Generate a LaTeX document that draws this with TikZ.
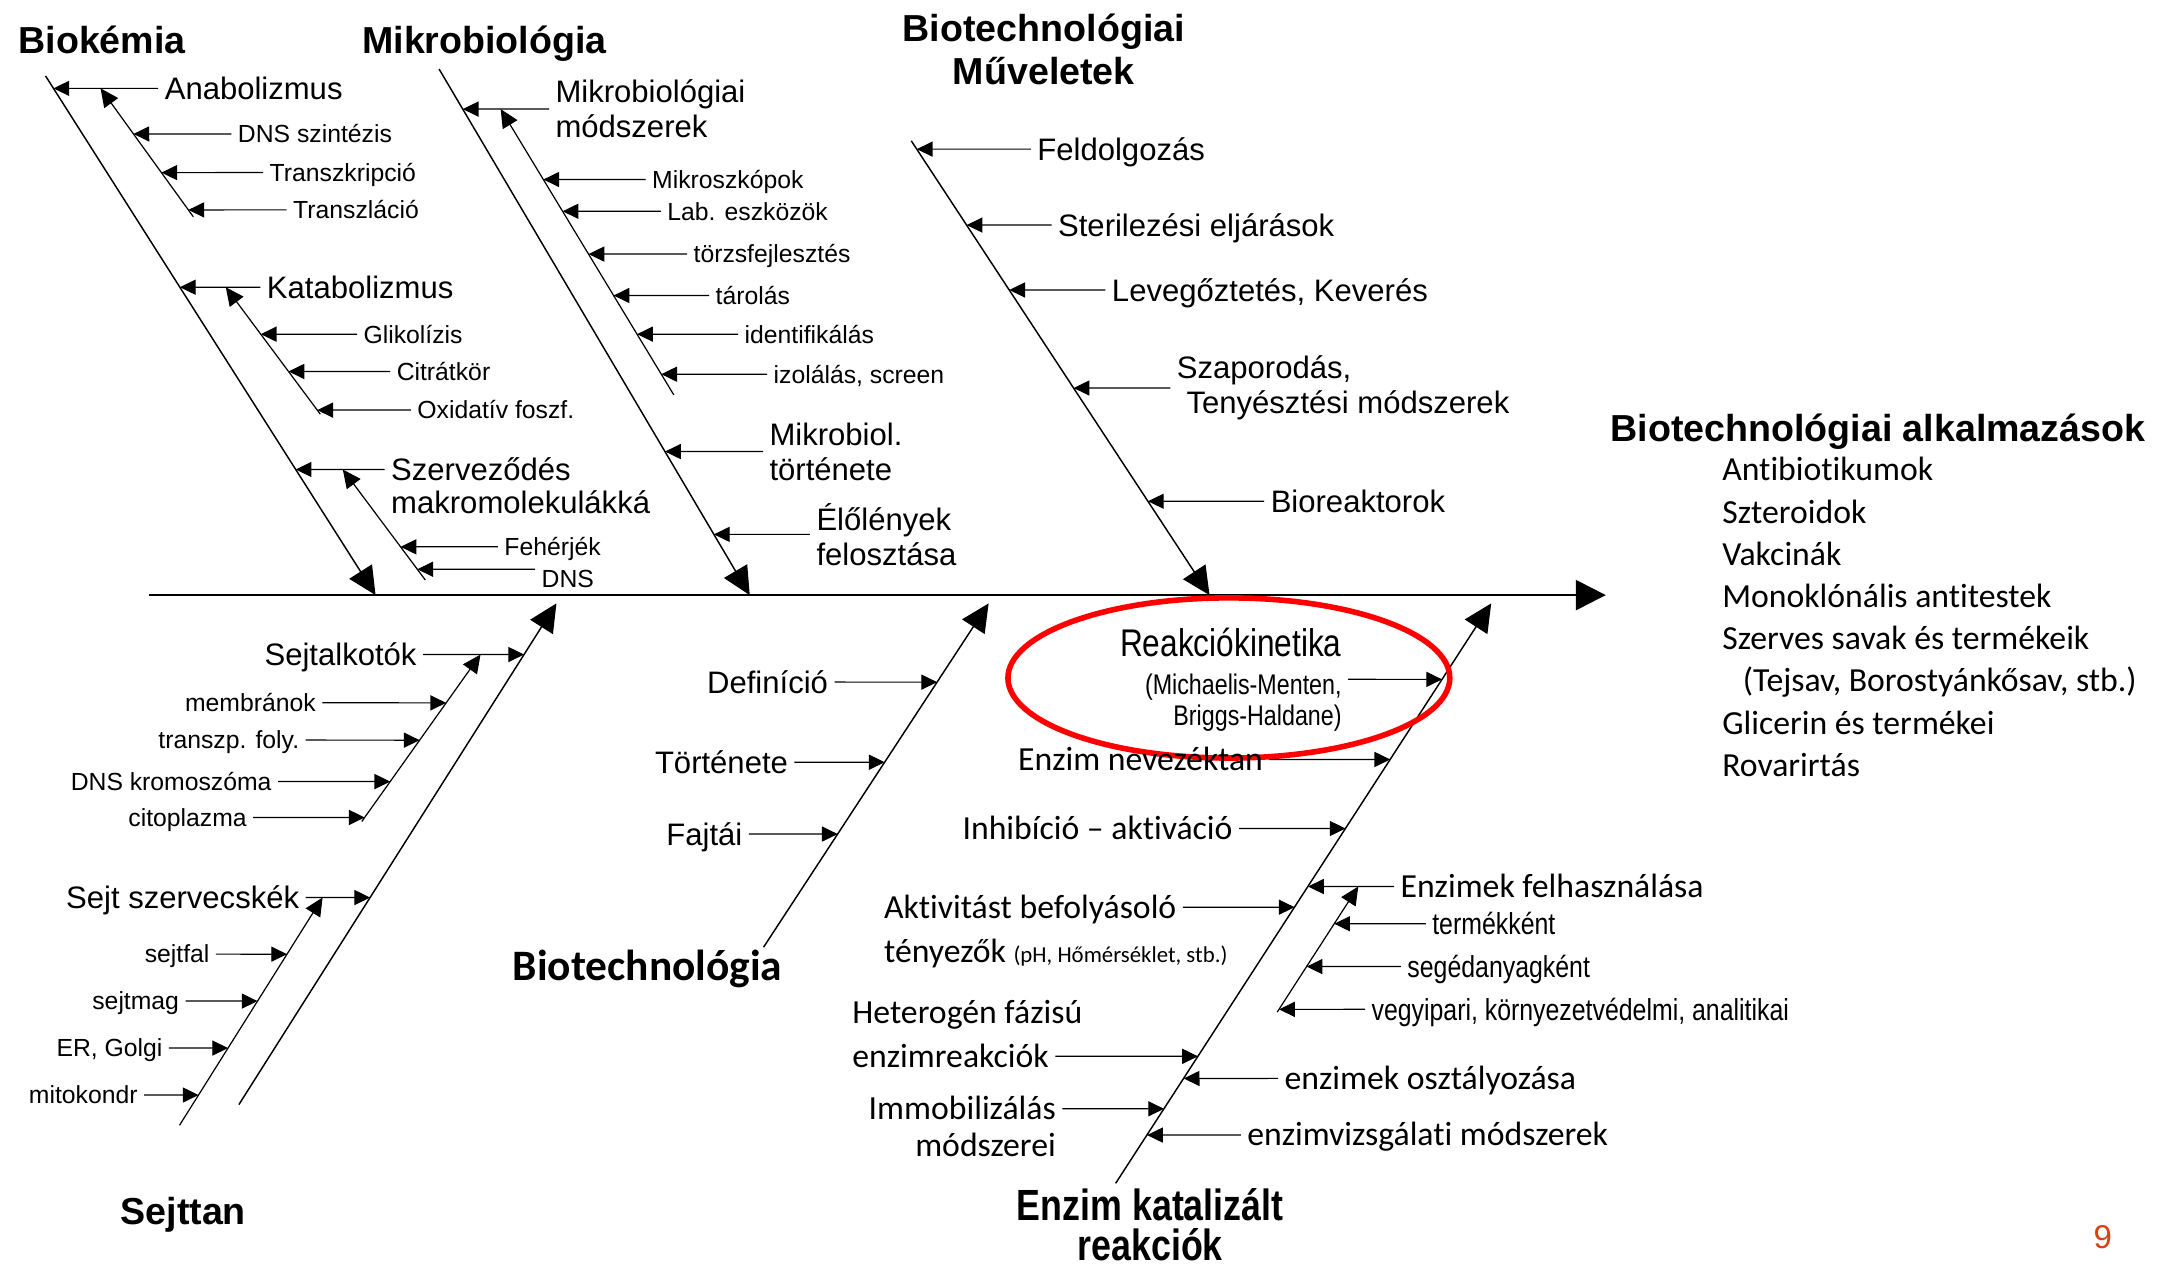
\documentclass[tikz,border=0pt]{standalone}
\usepackage{fontspec}
\setmainfont{Liberation Sans}
\newfontfamily\calfont[Ligatures=NoCommon]{Carlito}
\newfontfamily\narrowfont[FakeStretch=0.82]{Liberation Sans}
\usetikzlibrary{arrows.meta,positioning}
\definecolor{pagered}{RGB}{214,66,16}

\tikzset{
  spine/.style={draw, line width=1pt, -{Triangle[length=12.3pt,width=12.3pt]}},
  bone/.style={draw, line width=0.6pt, -{Triangle[length=11.5pt,width=11pt]}},
  sub/.style={draw, line width=0.5pt, -{Triangle[length=7.5pt,width=7pt]}},
  arr/.style={draw, line width=0.5pt, -{Triangle[length=6.5pt,width=6.2pt]}, shorten <=2.5pt},
  ttl/.style={font=\fontsize{15.5}{17.6}\selectfont\bfseries, inner sep=0pt},
  ttl1/.style={ttl, text height=11.3pt, text depth=0pt},
  fmed/.style={font=\fontsize{12.8}{14.5}\selectfont, inner sep=0pt},
  med/.style={fmed, text height=9.2pt, text depth=0pt},
  sml/.style={font=\fontsize{10.2}{12}\selectfont, inner sep=0pt, text height=7.3pt, text depth=0pt},
  fcal/.style={font=\calfont\fontsize{13.9}{17.4}\selectfont, inner sep=0pt},
  cal/.style={fcal, text height=9pt, text depth=0pt},
  nar/.style={font=\narrowfont\fontsize{12.5}{13}\selectfont, inner sep=0pt, text height=9pt, text depth=0pt}
}

\begin{document}
\begin{tikzpicture}[x=0.02cm, y=-0.02cm]
\path[use as bounding box, fill=white] (0,0) rectangle (1568,920);

% spine and bones
\coordinate (sp0) at (108,431);
\coordinate (sp1) at (1163,431);
\path[spine] (sp0) -- (sp1);

\coordinate (bk0) at (33,55);   \coordinate (bk1) at (272,431);
\coordinate (mb0) at (318,50);  \coordinate (mb1) at (543,431);
\coordinate (mv0) at (660,102); \coordinate (mv1) at (876,431);
\coordinate (sj0) at (173,800); \coordinate (sj1) at (403,437);
\coordinate (bt0) at (553,686); \coordinate (bt1) at (716,437);
\coordinate (ez0) at (808,857); \coordinate (ez1) at (1080,437);
\path[bone] (bk0) -- (bk1);
\path[bone] (mb0) -- (mb1);
\path[bone] (mv0) -- (mv1);
\path[bone] (sj0) -- (sj1);
\path[bone] (bt0) -- (bt1);
\path[bone] (ez0) -- (ez1);

% Biokemia
\node[ttl1, anchor=west] (biok) at (13,29) {Biokémia};
\node[med, anchor=west] (anab) at (119,64) {Anabolizmus};
\node[sml, anchor=west] (dnssz) at (172,97) {DNS szintézis};
\node[sml, anchor=west] (transk) at (195,125) {Transzkripció};
\node[sml, anchor=west] (transl) at (212,152) {Transzláció};
\node[med, anchor=west] (katab) at (193,208) {Katabolizmus};
\node[sml, anchor=west] (glik) at (263,242) {Glikolízis};
\node[sml, anchor=west] (citr) at (287,269) {Citrátkör};
\node[sml, anchor=west] (oxid) at (302,297) {Oxidatív foszf.};
\node[med, anchor=west] (szerv) at (283,340) {Szerveződés};
\node[med, anchor=west] (makro) at (283,364) {makromolekulákká};
\node[sml, anchor=west] (feh) at (365,396) {Fehérjék};
\node[sml, anchor=west] (dns) at (392,419) {DNS};

\coordinate (an0) at (140,157); \coordinate (an1) at (75,67);
\coordinate (ka0) at (232,300); \coordinate (ka1) at (165,210);
\coordinate (ss0) at (308,420); \coordinate (ss1) at (252,345);
\path[sub] (an0) -- (intersection of an0--an1 and anab.west--anab.east);
\path[sub] (ka0) -- (intersection of ka0--ka1 and katab.west--katab.east);
\path[sub] (ss0) -- (intersection of ss0--ss1 and szerv.west--szerv.east);

\path[arr] (anab.west) -- (intersection of bk0--bk1 and anab.west--anab.east);
\path[arr] (katab.west) -- (intersection of bk0--bk1 and katab.west--katab.east);
\path[arr] (szerv.west) -- (intersection of bk0--bk1 and szerv.west--szerv.east);
\path[arr] (dnssz.west) -- (intersection of an0--an1 and dnssz.west--dnssz.east);
\path[arr] (transk.west) -- (intersection of an0--an1 and transk.west--transk.east);
\path[arr] (transl.west) -- (intersection of an0--an1 and transl.west--transl.east);
\path[arr] (glik.west) -- (intersection of ka0--ka1 and glik.west--glik.east);
\path[arr] (citr.west) -- (intersection of ka0--ka1 and citr.west--citr.east);
\path[arr] (oxid.west) -- (intersection of ka0--ka1 and oxid.west--oxid.east);
\path[arr] (feh.west) -- (intersection of ss0--ss1 and feh.west--feh.east);
\path[arr] (dns.north west) -- (intersection of ss0--ss1 and dns.north west--dns.north east);

% Mikrobiologia
\node[ttl1, anchor=west] (mikb) at (262,29) {Mikrobiológia};
\node[fmed, align=left, anchor=west] (mmod) at (402,79) {Mikrobiológiai\\módszerek};
\node[sml, anchor=west] (mszk) at (472,130) {Mikroszkópok};
\node[sml, anchor=west] (labe) at (483,153) {Lab. eszközök};
\node[sml, anchor=west] (torzs) at (502,184) {törzsfejlesztés};
\node[sml, anchor=west] (tarol) at (518,214) {tárolás};
\node[sml, anchor=west] (ident) at (539,242) {identifikálás};
\node[sml, anchor=west] (izol) at (560,271) {izolálás, screen};
\node[fmed, align=left, anchor=west] (mtort) at (557,327) {Mikrobiol.\\története};
\node[fmed, align=left, anchor=west] (elol) at (591,387) {Élőlények\\felosztása};

\coordinate (mm0) at (488,286); \coordinate (mm1) at (362,78);
\path[sub] (mm0) -- (intersection of mm0--mm1 and mmod.west--mmod.east);

\path[arr] (mmod.west) -- (intersection of mb0--mb1 and mmod.west--mmod.east);
\path[arr] (mtort.west) -- (intersection of mb0--mb1 and mtort.west--mtort.east);
\path[arr] (elol.west) -- (intersection of mb0--mb1 and elol.west--elol.east);
\path[arr] (mszk.west) -- (intersection of mm0--mm1 and mszk.west--mszk.east);
\path[arr] (labe.west) -- (intersection of mm0--mm1 and labe.west--labe.east);
\path[arr] (torzs.west) -- (intersection of mm0--mm1 and torzs.west--torzs.east);
\path[arr] (tarol.west) -- (intersection of mm0--mm1 and tarol.west--tarol.east);
\path[arr] (ident.west) -- (intersection of mm0--mm1 and ident.west--ident.east);
\path[arr] (izol.west) -- (intersection of mm0--mm1 and izol.west--izol.east);

% Muveletek
\node[ttl, align=center] (muv) at (756,36) {Biotechnológiai\\Műveletek};
\node[med, anchor=west] (feld) at (751,108) {Feldolgozás};
\node[med, anchor=west] (steril) at (766,163) {Sterilezési eljárások};
\node[med, anchor=west] (leveg) at (805,210) {Levegőztetés, Keverés};
\node[fmed, align=left, anchor=west] (szap) at (852,281) {Szaporodás,\\\hspace*{4pt}Tenyésztési módszerek};
\node[med, anchor=west] (biore) at (920,363) {Bioreaktorok};

\path[arr] (feld.west) -- (intersection of mv0--mv1 and feld.west--feld.east);
\path[arr] (steril.west) -- (intersection of mv0--mv1 and steril.west--steril.east);
\path[arr] (leveg.west) -- (intersection of mv0--mv1 and leveg.west--leveg.east);
\path[arr] (szap.west) -- (intersection of mv0--mv1 and szap.west--szap.east);
\path[arr] (biore.west) -- (intersection of mv0--mv1 and biore.west--biore.east);

% alkalmazasok
\node[ttl1, anchor=west] (alk) at (1166,310) {Biotechnológiai alkalmazások};
\node[fcal, align=left, anchor=north west] (alkl) at (1247,331) {Antibiotikumok\\Szteroidok\\Vakcinák\\Monoklónális antitestek\\Szerves savak és termékeik\\\hspace*{8.5pt}(Tejsav, Borostyánkősav, stb.)\\Glicerin és termékei\\Rovarirtás};

% Sejttan
\node[ttl1, anchor=west] (sejt) at (87,877) {Sejttan};
\node[med, anchor=east] (salk) at (302,474) {Sejtalkotók};
\node[sml, anchor=east] (membr) at (229,509) {membránok};
\node[sml, anchor=east] (trfoly) at (217,536) {transzp. foly.};
\node[sml, anchor=east] (dnskr) at (197,566) {DNS kromoszóma};
\node[sml, anchor=east] (citop) at (179,592) {citoplazma};
\node[med, anchor=east] (szvcs) at (217,650) {Sejt szervecskék};
\node[sml, anchor=east] (sfal) at (152,691) {sejtfal};
\node[sml, anchor=east] (smag) at (130,725) {sejtmag};
\node[sml, anchor=east] (ergo) at (118,759) {ER, Golgi};
\node[sml, anchor=east] (mitok) at (100,793) {mitokondr};

\coordinate (sk0) at (262,595); \coordinate (sk1) at (343,481);
\coordinate (sv0) at (130,815); \coordinate (sv1) at (233,651);
\path[sub] (sk0) -- (intersection of sk0--sk1 and salk.west--salk.east);
\path[sub] (sv0) -- (intersection of sv0--sv1 and szvcs.west--szvcs.east);

\path[arr] (salk.east) -- (intersection of sj0--sj1 and salk.west--salk.east);
\path[arr] (szvcs.east) -- (intersection of sj0--sj1 and szvcs.west--szvcs.east);
\path[arr] (membr.east) -- (intersection of sk0--sk1 and membr.west--membr.east);
\path[arr] (trfoly.east) -- (intersection of sk0--sk1 and trfoly.west--trfoly.east);
\path[arr] (dnskr.east) -- (intersection of sk0--sk1 and dnskr.west--dnskr.east);
\path[arr] (citop.east) -- (intersection of sk0--sk1 and citop.west--citop.east);
\path[arr] (sfal.east) -- (intersection of sv0--sv1 and sfal.west--sfal.east);
\path[arr] (smag.east) -- (intersection of sv0--sv1 and smag.west--smag.east);
\path[arr] (ergo.east) -- (intersection of sv0--sv1 and ergo.west--ergo.east);
\path[arr] (mitok.east) -- (intersection of sv0--sv1 and mitok.west--mitok.east);

% Biotechnologia
\node[font=\calfont\bfseries\fontsize{17.9}{20}\selectfont, inner sep=0pt, anchor=west] (btech) at (371,702) {Biotechnológia};
\node[med, anchor=east] (defin) at (600,494) {Definíció};
\node[med, anchor=east] (tort) at (571,552) {Története};
\node[med, anchor=east] (fajt) at (538,604) {Fajtái};

\path[arr] (defin.east) -- (intersection of bt0--bt1 and defin.west--defin.east);
\path[arr] (tort.east) -- (intersection of bt0--bt1 and tort.west--tort.east);
\path[arr] (fajt.east) -- (intersection of bt0--bt1 and fajt.west--fajt.east);

% Enzim katalizalt reakciok
\node[font=\narrowfont\bfseries\fontsize{18}{16.8}\selectfont, inner sep=0pt, align=center] (enzt) at (833,887) {Enzim katalizált\\reakciók};
\node[font=\narrowfont\fontsize{11.7}{12.5}\selectfont, inner sep=0pt, align=right, anchor=east] (reak) at (972,492) {{\fontsize{15.9}{16}\selectfont Reakciókinetika}\\[3.4pt](Michaelis-Menten,\\Briggs-Haldane)};
\draw[red, line width=2.3pt] (890,491) ellipse [x radius=160, y radius=58];
\node[cal, anchor=east] (nevez) at (915,550) {Enzim nevezéktan};
\node[cal, anchor=east] (inhib) at (893,600) {Inhibíció – aktiváció};
\node[cal, anchor=west] (felh) at (1014,642) {Enzimek felhasználása};
\node[nar, anchor=west] (term) at (1037,669) {termékként};
\node[nar, anchor=west] (seged) at (1019,700) {segédanyagként};
\node[nar, anchor=west] (vegy) at (993,731) {vegyipari, környezetvédelmi, analitikai};
\node[cal, anchor=west] (aktiv) at (640,657) {Aktivitást befolyásoló};
\node[cal, anchor=west] (teny) at (640,689) {tényezők {\fontsize{9.4}{10}\selectfont (pH, Hőmérséklet, stb.)}};
\node[cal, anchor=west] (heter) at (617,733) {Heterogén fázisú};
\node[cal, anchor=west] (enzr) at (617,765) {enzimreakciók};
\node[cal, anchor=west] (oszt) at (930,781) {enzimek osztályozása};
\node[cal, anchor=east] (immob) at (765,803) {Immobilizálás};
\node[cal, anchor=east] (modsz) at (765,830) {módszerei};
\node[cal, anchor=west] (vizsg) at (903,822) {enzimvizsgálati módszerek};

\coordinate (ef0) at (925,733); \coordinate (ef1) at (983,643);
\path[sub] (ef0) -- (intersection of ef0--ef1 and felh.west--felh.east);

\path[arr] (reak.east) -- (intersection of ez0--ez1 and reak.west--reak.east);
\path[arr] (nevez.east) -- (intersection of ez0--ez1 and nevez.west--nevez.east);
\path[arr] (inhib.east) -- (intersection of ez0--ez1 and inhib.west--inhib.east);
\path[arr] (aktiv.east) -- (intersection of ez0--ez1 and aktiv.west--aktiv.east);
\path[arr] (enzr.east) -- (intersection of ez0--ez1 and enzr.west--enzr.east);
\path[arr] (immob.east) -- (intersection of ez0--ez1 and immob.west--immob.east);
\path[arr] (felh.west) -- (intersection of ez0--ez1 and felh.west--felh.east);
\path[arr] (oszt.west) -- (intersection of ez0--ez1 and oszt.west--oszt.east);
\path[arr] (vizsg.west) -- (intersection of ez0--ez1 and vizsg.west--vizsg.east);
\path[arr] (term.west) -- (intersection of ef0--ef1 and term.west--term.east);
\path[arr] (seged.west) -- (intersection of ef0--ef1 and seged.west--seged.east);
\path[arr] (vegy.west) -- (intersection of ef0--ef1 and vegy.west--vegy.east);

\node[font=\fontsize{13.6}{14}\selectfont, text=pagered, inner sep=0pt, anchor=west] (pnum) at (1516,896) {9};
\end{tikzpicture}
\end{document}
